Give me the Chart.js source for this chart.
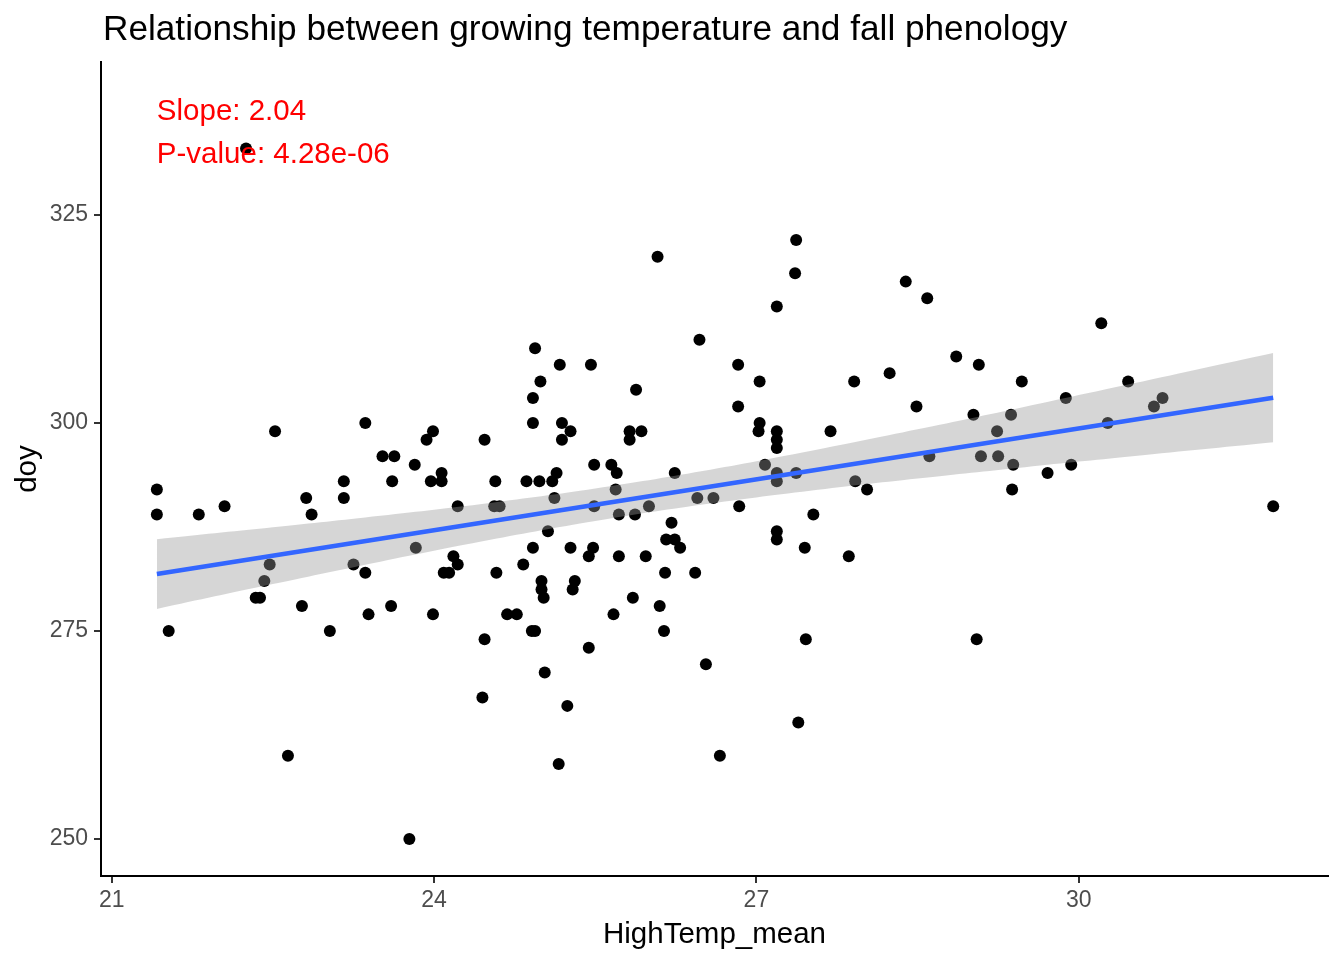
<!DOCTYPE html>
<html>
<head>
<meta charset="utf-8">
<title>Growing temperature vs fall phenology</title>
<script src="https://cdn.jsdelivr.net/npm/chart.js@4.4.1/dist/chart.umd.min.js"></script>
<style>
  html, body { margin: 0; padding: 0; background: #fff; }
  #wrap { width: 1344px; height: 960px; position: relative; }
</style>
</head>
<body>
<div id="wrap"><canvas id="chart-phenology"></canvas></div>
<script>
const tempMean = [
  22.25, 22.52, 23.36, 23.52, 23.63, 21.42, 21.42, 21.81, 22.05, 22.81, 22.86, 23.16, 23.16, 23.82, 23.61,
  22.47, 22.42, 22.38, 22.34, 23.25, 23.36, 23.83, 22.77, 23.39, 23.60, 21.53, 23.03, 22.64, 23.77,
  24.94, 25.17, 25.46, 26.47, 24.99, 24.92, 25.88, 24.92, 25.19, 25.27, 25.19, 25.82, 25.93, 25.82,
  23.99, 23.93, 24.47, 24.07, 23.97, 24.07, 24.57, 24.86, 24.98, 25.10, 25.14, 25.49, 25.65, 25.70,
  26.24, 25.69, 25.12, 24.22, 24.56, 24.61, 25.49, 26.00, 26.45, 26.60, 25.72, 25.87, 26.21, 25.06,
  26.16, 26.24, 26.29, 24.92, 25.27, 25.48, 25.44, 25.72, 25.97, 24.18, 24.22, 24.83, 24.09, 24.14,
  24.58, 26.15, 26.43, 25.00, 25.31, 25.00, 25.02, 25.29, 25.85, 26.10, 23.99, 24.68, 24.77, 25.67,
  24.91, 24.94, 26.14, 24.47, 25.44, 26.53, 25.03, 24.45, 25.24, 25.16, 26.66,
  27.37, 27.36, 27.19, 28.39, 28.59, 26.83, 27.03, 26.83, 27.91, 28.24, 28.86, 29.07, 29.47, 28.49,
  27.03, 27.02, 27.19, 27.19, 27.19, 27.69, 29.02, 29.37, 29.24, 27.08, 27.19, 27.19, 27.37, 28.61,
  29.09, 29.25, 29.39, 27.92, 28.03, 29.38, 26.84, 27.53, 27.19, 27.19, 27.45, 27.86, 27.46, 29.05,
  27.39, 30.21, 30.46, 29.88, 30.78, 30.70, 30.27, 29.93, 29.71, 31.81, 26.08
];
const doy = [
  333, 299, 300, 296, 296, 292, 289, 289, 290, 291, 289, 293, 291, 295, 293,
  283, 281, 279, 279, 283, 282, 285, 278, 277, 278, 275, 275, 260, 250,
  309, 307, 307, 310, 305, 303, 304, 300, 300, 299, 298, 299, 299, 298,
  299, 298, 298, 294, 293, 293, 293, 293, 293, 293, 294, 295, 295, 294,
  294, 292, 291, 290, 290, 290, 290, 290, 291, 291, 289, 289, 288, 287,
  286, 286, 285, 285, 285, 285, 284, 284, 284, 284, 283, 283, 282, 282,
  282, 282, 282, 281, 281, 280, 279, 280, 279, 278, 277, 277, 277, 277,
  275, 275, 275, 274, 273, 271, 270, 267, 266, 259, 260,
  322, 318, 314, 317, 315, 307, 305, 302, 305, 306, 308, 307, 305, 302,
  300, 299, 299, 298, 297, 299, 301, 301, 299, 295, 294, 293, 294, 296,
  296, 296, 295, 293, 292, 292, 290, 289, 287, 286, 285, 284, 274, 274,
  264, 312, 305, 303, 303, 302, 300, 295, 294, 290, 320
];

// smoother (lm) line and its 95% band, read at a few x positions
const fitX = [21.42, 22.5, 23.5, 24.5, 25.5, 26.5, 27.5, 28.5, 29.5, 30.5, 31.81];
const fitY = [281.85, 284.05, 286.09, 288.13, 290.17, 292.21, 294.25, 296.29, 298.33, 300.37, 303.05];
const bandHi = [286.04, 287.46, 288.85, 290.36, 292.12, 294.22, 296.63, 299.24, 301.96, 304.74, 308.42];
const bandLo = [277.66, 280.64, 283.33, 285.90, 288.22, 290.20, 291.87, 293.34, 294.70, 296.00, 297.68];

const xTicks = [21, 24, 27, 30];
const yTicks = [250, 275, 300, 325];

const titleText = "Relationship between growing temperature and fall phenology";
const xTitle = "HighTemp_mean";
const yTitle = "doy";
const annoLines = ["Slope: 2.04", "P-value: 4.28e-06"];
const annoX = 21.42;
const annoY = [337.4, 332.2];

const FONT = '"Liberation Sans", Arial, Helvetica, sans-serif';

function toXY(xs, ys) {
  return xs.map((x, i) => ({ x, y: ys[i] }));
}

const textPlugin = {
  id: "ggText",
  afterDatasetsDraw(chart) {
    const { ctx, scales } = chart;
    ctx.save();
    ctx.fillStyle = "#FF0000";
    ctx.font = "29.5px " + FONT;
    ctx.textAlign = "left";
    ctx.textBaseline = "middle";
    annoLines.forEach((t, i) => {
      ctx.fillText(t, scales.x.getPixelForValue(annoX), scales.y.getPixelForValue(annoY[i]));
    });
    ctx.restore();
  },
  afterDraw(chart) {
    const { ctx, chartArea } = chart;
    ctx.save();
    ctx.fillStyle = "#000";
    ctx.textBaseline = "alphabetic";
    ctx.font = "35.2px " + FONT;
    ctx.textAlign = "left";
    ctx.fillText(titleText, chartArea.left + 2, 40);

    ctx.font = "29.5px " + FONT;
    ctx.textAlign = "center";
    ctx.fillText(xTitle, (chartArea.left + chartArea.right) / 2, 943);

    ctx.translate(36, (chartArea.top + chartArea.bottom) / 2);
    ctx.rotate(-Math.PI / 2);
    ctx.fillText(yTitle, 0, 0);
    ctx.restore();
  },
};

function axisOpts(min, max, ticks, fitFn, pad) {
  return {
    type: "linear",
    min,
    max,
    afterBuildTicks: (scale) => { scale.ticks = ticks.map((v) => ({ value: v })); },
    afterFit: fitFn,
    grid: { drawOnChartArea: false, drawTicks: true, tickLength: 7, color: "#333333", lineWidth: 2 },
    border: { display: true, color: "#000", width: 2 },
    ticks: { color: "#4D4D4D", font: { family: FONT, size: 23 }, padding: pad, maxRotation: 0 },
  };
}

const canvas = document.getElementById("chart-phenology");
new Chart(canvas, {
  type: "scatter",
  data: {
    datasets: [
      {
        type: "scatter",
        data: toXY(tempMean, doy),
        backgroundColor: "#000",
        borderWidth: 0,
        pointRadius: 6,
        order: 3,
      },
      {
        type: "line",
        data: toXY(fitX, bandHi),
        borderWidth: 0,
        pointRadius: 0,
        tension: 0.4,
        fill: "+1",
        backgroundColor: "rgba(153,153,153,0.4)",
        order: 2,
      },
      {
        type: "line",
        data: toXY(fitX, bandLo),
        borderWidth: 0,
        pointRadius: 0,
        tension: 0.4,
        fill: false,
        order: 2,
      },
      {
        type: "line",
        data: toXY([fitX[0], fitX[fitX.length - 1]], [fitY[0], fitY[fitY.length - 1]]),
        borderColor: "#3366FF",
        borderWidth: 4.5,
        pointRadius: 0,
        fill: false,
        order: 1,
      },
    ],
  },
  options: {
    responsive: true,
    maintainAspectRatio: false,
    animation: false,
    layout: { padding: { top: 62, right: 16, bottom: 0, left: 0 } },
    plugins: { legend: { display: false }, tooltip: { enabled: false }, title: { display: false } },
    scales: {
      x: Object.assign(axisOpts(20.9, 32.32, xTicks, (s) => { s.height = 84; }, 4), { position: "bottom" }),
      y: Object.assign(axisOpts(245.55, 343.4, yTicks, (s) => { s.width = 101; }, 6), { position: "left" }),
    },
  },
  plugins: [textPlugin],
});
</script>
</body>
</html>
